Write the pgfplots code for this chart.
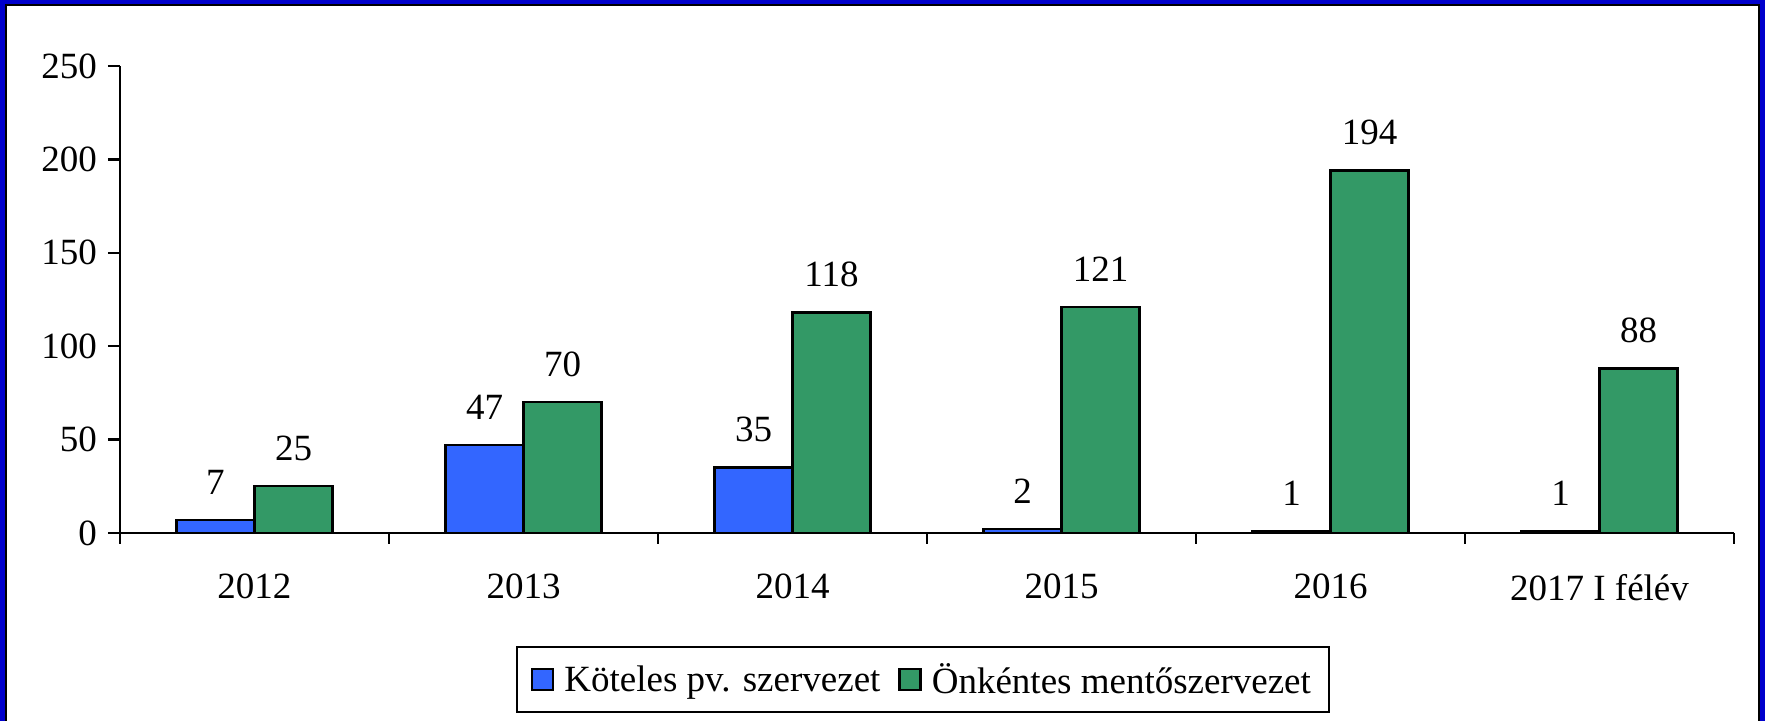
\documentclass[border=0pt]{standalone}
\usepackage{fontspec}
\setmainfont{Liberation Serif}
\usepackage{pgfplots}
\pgfplotsset{compat=1.18}

\definecolor{kotblue}{RGB}{51,102,255}
\definecolor{onkgreen}{RGB}{51,153,102}
\definecolor{frameblue}{RGB}{0,0,204}

\begin{document}
\begin{tikzpicture}
% frame (1px = 0.5pt)
\useasboundingbox (-60pt,-94pt) rectangle (822.5pt,266.5pt);
\fill[frameblue] (-60pt,-94pt) rectangle (822.5pt,266.5pt);
\filldraw[fill=white, draw=black, line width=1pt] (-57pt,-110pt) rectangle (819.25pt,264pt);
\begin{axis}[
    at={(0,0)}, anchor=south west,
    scale only axis,
    width=807pt, height=233.5pt,
    font=\fontsize{18.5}{22}\selectfont,
    /pgf/number format/assume math mode=true,
    xmin=-0.5, xmax=5.5,
    ymin=0, ymax=250,
    ytick={0,50,...,250},
    xtick={0,...,5},
    xticklabels={2012,2013,2014,2015,2016,2017 I félév},
    minor xtick={-0.5,0.5,...,5.5},
    axis x line*=bottom,
    axis y line*=left,
    axis line style={line width=1.2pt, -},
    tick align=outside,
    major tick length=6pt,
    minor tick length=5.5pt,
    ytick style={line width=1.2pt, black},
    xtick style={draw=none},
    minor x tick style={line width=1.2pt, black, draw},
    yticklabel style={xshift=-2pt},
    xticklabel style={yshift=-11pt},
    ybar, bar width=39pt,
    nodes near coords,
    every node near coord/.append style={font=\fontsize{18.5}{22}\selectfont, yshift=9pt},
    clip=false,
    legend columns=2,
    legend style={at={(0.4975,-0.243)}, anchor=north, draw=black, line width=0.8pt,
        font=\fontsize{18.5}{22}\selectfont, inner xsep=7pt, inner ysep=6pt,
        /tikz/every odd column/.append style={column sep=3pt},
        /tikz/every even column/.append style={column sep=7pt}},
    legend image code/.code={\draw[#1, line width=1.2pt] (0pt,-5.25pt) rectangle (10.5pt,5.25pt);},
]
\addplot[fill=kotblue, draw=black, line width=1.2pt, bar shift=-19.5pt] coordinates {
    (0,7) (1,47) (2,35) (3,2) (4,1) (5,1)
};
\addlegendentry{Köteles pv. szervezet}
\addplot[fill=onkgreen, draw=black, line width=1.2pt, bar shift=19.5pt] coordinates {
    (0,25) (1,70) (2,118) (3,121) (4,194) (5,88)
};
\addlegendentry{Önkéntes mentőszervezet}
\end{axis}
\end{tikzpicture}
\end{document}
